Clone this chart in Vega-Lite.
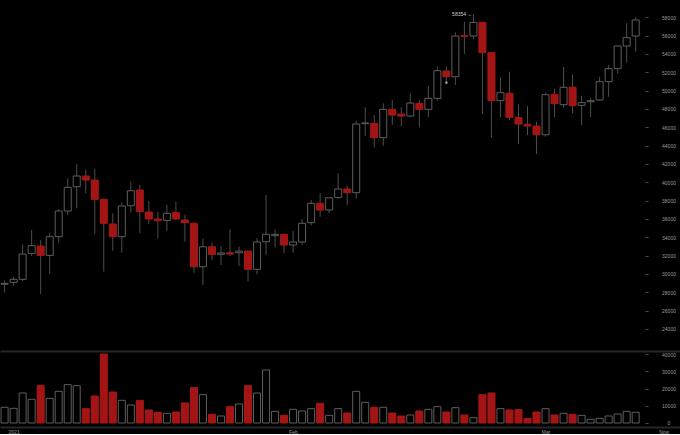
{
 "$schema": "https://vega.github.io/schema/vega-lite/v6.json",
 "background": "#000",
 "padding": 0,
 "spacing": 0,
 "config": {"view": {"stroke": null}, "axis": {"labelFont": "Liberation Sans", "labelFontSize": 5, "labelColor": "#9a9a9a", "grid": false}},
 "datasets": {
  "ohlc": [
   {"d":"2020-12-31","o":28880,"h":29300,"l":28000,"c":28980,"v":9130},
   {"d":"2021-01-01","o":29090,"h":29700,"l":28720,"c":29420,"v":8530},
   {"d":"2021-01-02","o":29420,"h":33240,"l":29230,"c":32180,"v":17440},
   {"d":"2021-01-03","o":32250,"h":34800,"l":31960,"c":33080,"v":13760},
   {"d":"2021-01-04","o":33050,"h":33700,"l":27820,"c":32030,"v":21900},
   {"d":"2021-01-05","o":32030,"h":34500,"l":30000,"c":34070,"v":14340},
   {"d":"2021-01-06","o":34070,"h":37090,"l":33410,"c":36870,"v":18400},
   {"d":"2021-01-07","o":36870,"h":40430,"l":36430,"c":39450,"v":22290},
   {"d":"2021-01-08","o":39520,"h":42000,"l":37160,"c":40690,"v":21700},
   {"d":"2021-01-09","o":40690,"h":41420,"l":38800,"c":40250,"v":8330},
   {"d":"2021-01-10","o":40250,"h":41450,"l":34330,"c":38140,"v":15700},
   {"d":"2021-01-11","o":38140,"h":38250,"l":30250,"c":35530,"v":40100},
   {"d":"2021-01-12","o":35450,"h":36620,"l":32540,"c":34070,"v":18020},
   {"d":"2021-01-13","o":34070,"h":37820,"l":32320,"c":37420,"v":13180},
   {"d":"2021-01-14","o":37450,"h":40070,"l":36680,"c":39080,"v":10470},
   {"d":"2021-01-15","o":39160,"h":39700,"l":34440,"c":36800,"v":13180},
   {"d":"2021-01-16","o":36760,"h":37960,"l":35450,"c":36000,"v":7560},
   {"d":"2021-01-17","o":36000,"h":36790,"l":33890,"c":35810,"v":6200},
   {"d":"2021-01-18","o":35850,"h":37520,"l":34720,"c":36620,"v":5620},
   {"d":"2021-01-19","o":36690,"h":37880,"l":35850,"c":36000,"v":6400},
   {"d":"2021-01-20","o":35890,"h":36430,"l":33520,"c":35600,"v":11630},
   {"d":"2021-01-21","o":35530,"h":35600,"l":30140,"c":30790,"v":20540},
   {"d":"2021-01-22","o":30790,"h":33890,"l":28800,"c":32970,"v":16470},
   {"d":"2021-01-23","o":32970,"h":33410,"l":31530,"c":32130,"v":5040},
   {"d":"2021-01-24","o":32150,"h":33050,"l":30980,"c":32290,"v":4070},
   {"d":"2021-01-25","o":32320,"h":34870,"l":31950,"c":32180,"v":9500},
   {"d":"2021-01-26","o":32320,"h":32970,"l":30870,"c":32500,"v":11050},
   {"d":"2021-01-27","o":32500,"h":32550,"l":29230,"c":30510,"v":21700},
   {"d":"2021-01-28","o":30510,"h":33890,"l":29960,"c":33490,"v":17440},
   {"d":"2021-01-29","o":33520,"h":38620,"l":32070,"c":34330,"v":30810},
   {"d":"2021-01-30","o":34180,"h":34870,"l":32910,"c":34330,"v":6780},
   {"d":"2021-01-31","o":34330,"h":34380,"l":32250,"c":33160,"v":4460},
   {"d":"2021-02-01","o":33160,"h":34690,"l":32320,"c":33490,"v":7950},
   {"d":"2021-02-02","o":33490,"h":36000,"l":33160,"c":35530,"v":6980},
   {"d":"2021-02-03","o":35600,"h":38070,"l":35310,"c":37710,"v":8330},
   {"d":"2021-02-04","o":37710,"h":38800,"l":36250,"c":36980,"v":11450},
   {"d":"2021-02-05","o":36980,"h":38400,"l":36620,"c":38320,"v":4460},
   {"d":"2021-02-06","o":38360,"h":40980,"l":38180,"c":39270,"v":8330},
   {"d":"2021-02-07","o":39270,"h":39630,"l":37490,"c":38870,"v":5810},
   {"d":"2021-02-08","o":38870,"h":46690,"l":38200,"c":46360,"v":18400},
   {"d":"2021-02-09","o":46400,"h":48180,"l":45050,"c":46480,"v":12020},
   {"d":"2021-02-10","o":46440,"h":47340,"l":43820,"c":44870,"v":9130},
   {"d":"2021-02-11","o":44870,"h":48620,"l":43990,"c":47960,"v":9130},
   {"d":"2021-02-12","o":47960,"h":48980,"l":46250,"c":47340,"v":5810},
   {"d":"2021-02-13","o":47450,"h":48180,"l":46140,"c":47230,"v":4070},
   {"d":"2021-02-14","o":47230,"h":49710,"l":47090,"c":48650,"v":4650},
   {"d":"2021-02-15","o":48620,"h":48980,"l":46000,"c":47960,"v":6980},
   {"d":"2021-02-16","o":47960,"h":50540,"l":47090,"c":49160,"v":7950},
   {"d":"2021-02-17","o":49160,"h":52620,"l":48910,"c":52180,"v":9500},
   {"d":"2021-02-18","o":52140,"h":52620,"l":50800,"c":51520,"v":6400},
   {"d":"2021-02-19","o":51520,"h":56360,"l":50610,"c":55960,"v":8910},
   {"d":"2021-02-20","o":56000,"h":57520,"l":54000,"c":55920,"v":4650},
   {"d":"2021-02-21","o":55960,"h":58354,"l":55600,"c":57450,"v":3100},
   {"d":"2021-02-22","o":57450,"h":57500,"l":47450,"c":54140,"v":16470},
   {"d":"2021-02-23","o":54140,"h":54200,"l":44910,"c":48910,"v":17440},
   {"d":"2021-02-24","o":48910,"h":51450,"l":47090,"c":49780,"v":8330},
   {"d":"2021-02-25","o":49710,"h":52070,"l":46800,"c":47090,"v":7560},
   {"d":"2021-02-26","o":47050,"h":48510,"l":44180,"c":46360,"v":7750},
   {"d":"2021-02-27","o":46330,"h":48320,"l":45160,"c":46140,"v":2710},
   {"d":"2021-02-28","o":46140,"h":46610,"l":43090,"c":45190,"v":6400},
   {"d":"2021-03-01","o":45190,"h":49780,"l":44980,"c":49560,"v":8330},
   {"d":"2021-03-02","o":49600,"h":50220,"l":47090,"c":48580,"v":4650},
   {"d":"2021-03-03","o":48470,"h":52580,"l":48180,"c":50370,"v":5620},
   {"d":"2021-03-04","o":50370,"h":51740,"l":47530,"c":48360,"v":5040},
   {"d":"2021-03-05","o":48400,"h":49450,"l":46250,"c":48690,"v":4460},
   {"d":"2021-03-06","o":48790,"h":49230,"l":47090,"c":48910,"v":2130},
   {"d":"2021-03-07","o":48980,"h":51520,"l":48910,"c":50980,"v":2710},
   {"d":"2021-03-08","o":50980,"h":52800,"l":49340,"c":52400,"v":4070},
   {"d":"2021-03-09","o":52400,"h":54900,"l":51890,"c":54870,"v":5230},
   {"d":"2021-03-10","o":54870,"h":57350,"l":53050,"c":55780,"v":6780},
   {"d":"2021-03-11","o":55960,"h":58000,"l":54250,"c":57710,"v":6200}
  ],
  "notes": [{"d":"2021-02-21","p":58354,"t":"58354 ←"}],
  "dots": [{"d":"2021-02-18","p":50870}]
 },
 "vconcat": [
  {
   "width": 680,
   "height": 351,
   "encoding": {
    "x": {"field": "d", "type": "temporal", "title": null,
     "scale": {"type": "utc", "domain": [1609376577000, 1615797561000], "nice": false},
     "axis": {"orient": "bottom", "labels": false, "ticks": false, "domain": true, "domainColor": "#262626", "domainWidth": 2}},
    "y": {"field": "l", "type": "quantitative", "title": null,
     "scale": {"domain": [21600, 59890], "nice": false, "zero": false},
     "axis": {"orient": "right", "offset": -35, "values": [24000,26000,28000,30000,32000,34000,36000,38000,40000,42000,44000,46000,48000,50000,52000,54000,56000,58000], "format": "d", "domain": false, "tickSize": 3, "tickColor": "#4a4a4a", "labelAlign": "center", "labelBaseline": "middle", "labelPadding": 20.5}}
   },
   "layer": [
    {
     "data": {"name": "ohlc"},
     "mark": {"type": "rule", "color": "#4d4d4d", "strokeWidth": 1},
     "encoding": {
      "y2": {"field": "h"}
     }
    },
    {
     "data": {"name": "ohlc"},
     "mark": {"type": "bar", "width": 7, "strokeWidth": 1},
     "encoding": {
      "y": {"field": "o", "type": "quantitative", "title": null},
      "y2": {"field": "c"},
      "fill": {"condition": {"test": "datum.c < datum.o", "value": "#a31515"}, "value": "#000"},
      "stroke": {"condition": {"test": "datum.c < datum.o", "value": "#a81717"}, "value": "#5e5e5e"}
     }
    },
    {
     "data": {"name": "notes"},
     "mark": {"type": "text", "align": "right", "baseline": "middle", "dx": -1, "font": "Liberation Sans", "fontSize": 5, "color": "#cfcfcf"},
     "encoding": {
      "y": {"field": "p", "type": "quantitative", "title": null},
      "text": {"field": "t"}
     }
    },
    {
     "data": {"name": "dots"},
     "mark": {"type": "point", "shape": "square", "size": 5, "filled": true, "color": "#e0e0e0"},
     "encoding": {
      "y": {"field": "p", "type": "quantitative", "title": null}
     }
    }
   ]
  },
  {
   "width": 680,
   "height": 76,
   "data": {"name": "ohlc"},
   "mark": {"type": "bar", "width": 7, "strokeWidth": 1},
   "encoding": {
    "x": {"field": "d", "type": "temporal", "title": null,
     "scale": {"type": "utc", "domain": [1609376577000, 1615797561000], "nice": false},
     "axis": {"orient": "bottom", "values": [1609459200000, 1612137600000, 1614556800000, 1615688970000], "labelExpr": "datum.value > 1615000000000 ? 'Now' : (utcmonth(datum.value) == 0 ? '2021' : utcFormat(datum.value, '%b'))", "ticks": false, "domain": true, "domainColor": "#262626", "domainWidth": 2, "labelPadding": 2, "labelBaseline": "top", "labelAlign": "center", "labelFlush": false, "labelOverlap": false}},
    "y": {"field": "v", "type": "quantitative", "title": null,
     "scale": {"domain": [-2330, 41860], "nice": false, "zero": false},
     "axis": {"orient": "right", "offset": -35, "values": [0, 10000, 20000, 30000, 40000], "format": "d", "domain": false, "tickSize": 3, "tickColor": "#4a4a4a", "labelAlign": "center", "labelBaseline": "middle", "labelPadding": 20.5}},
    "y2": {"datum": 0},
    "fill": {"condition": {"test": "datum.c < datum.o", "value": "#a31515"}, "value": "#000"},
    "stroke": {"condition": {"test": "datum.c < datum.o", "value": "#a81717"}, "value": "#5e5e5e"}
   }
  }
 ]
}
